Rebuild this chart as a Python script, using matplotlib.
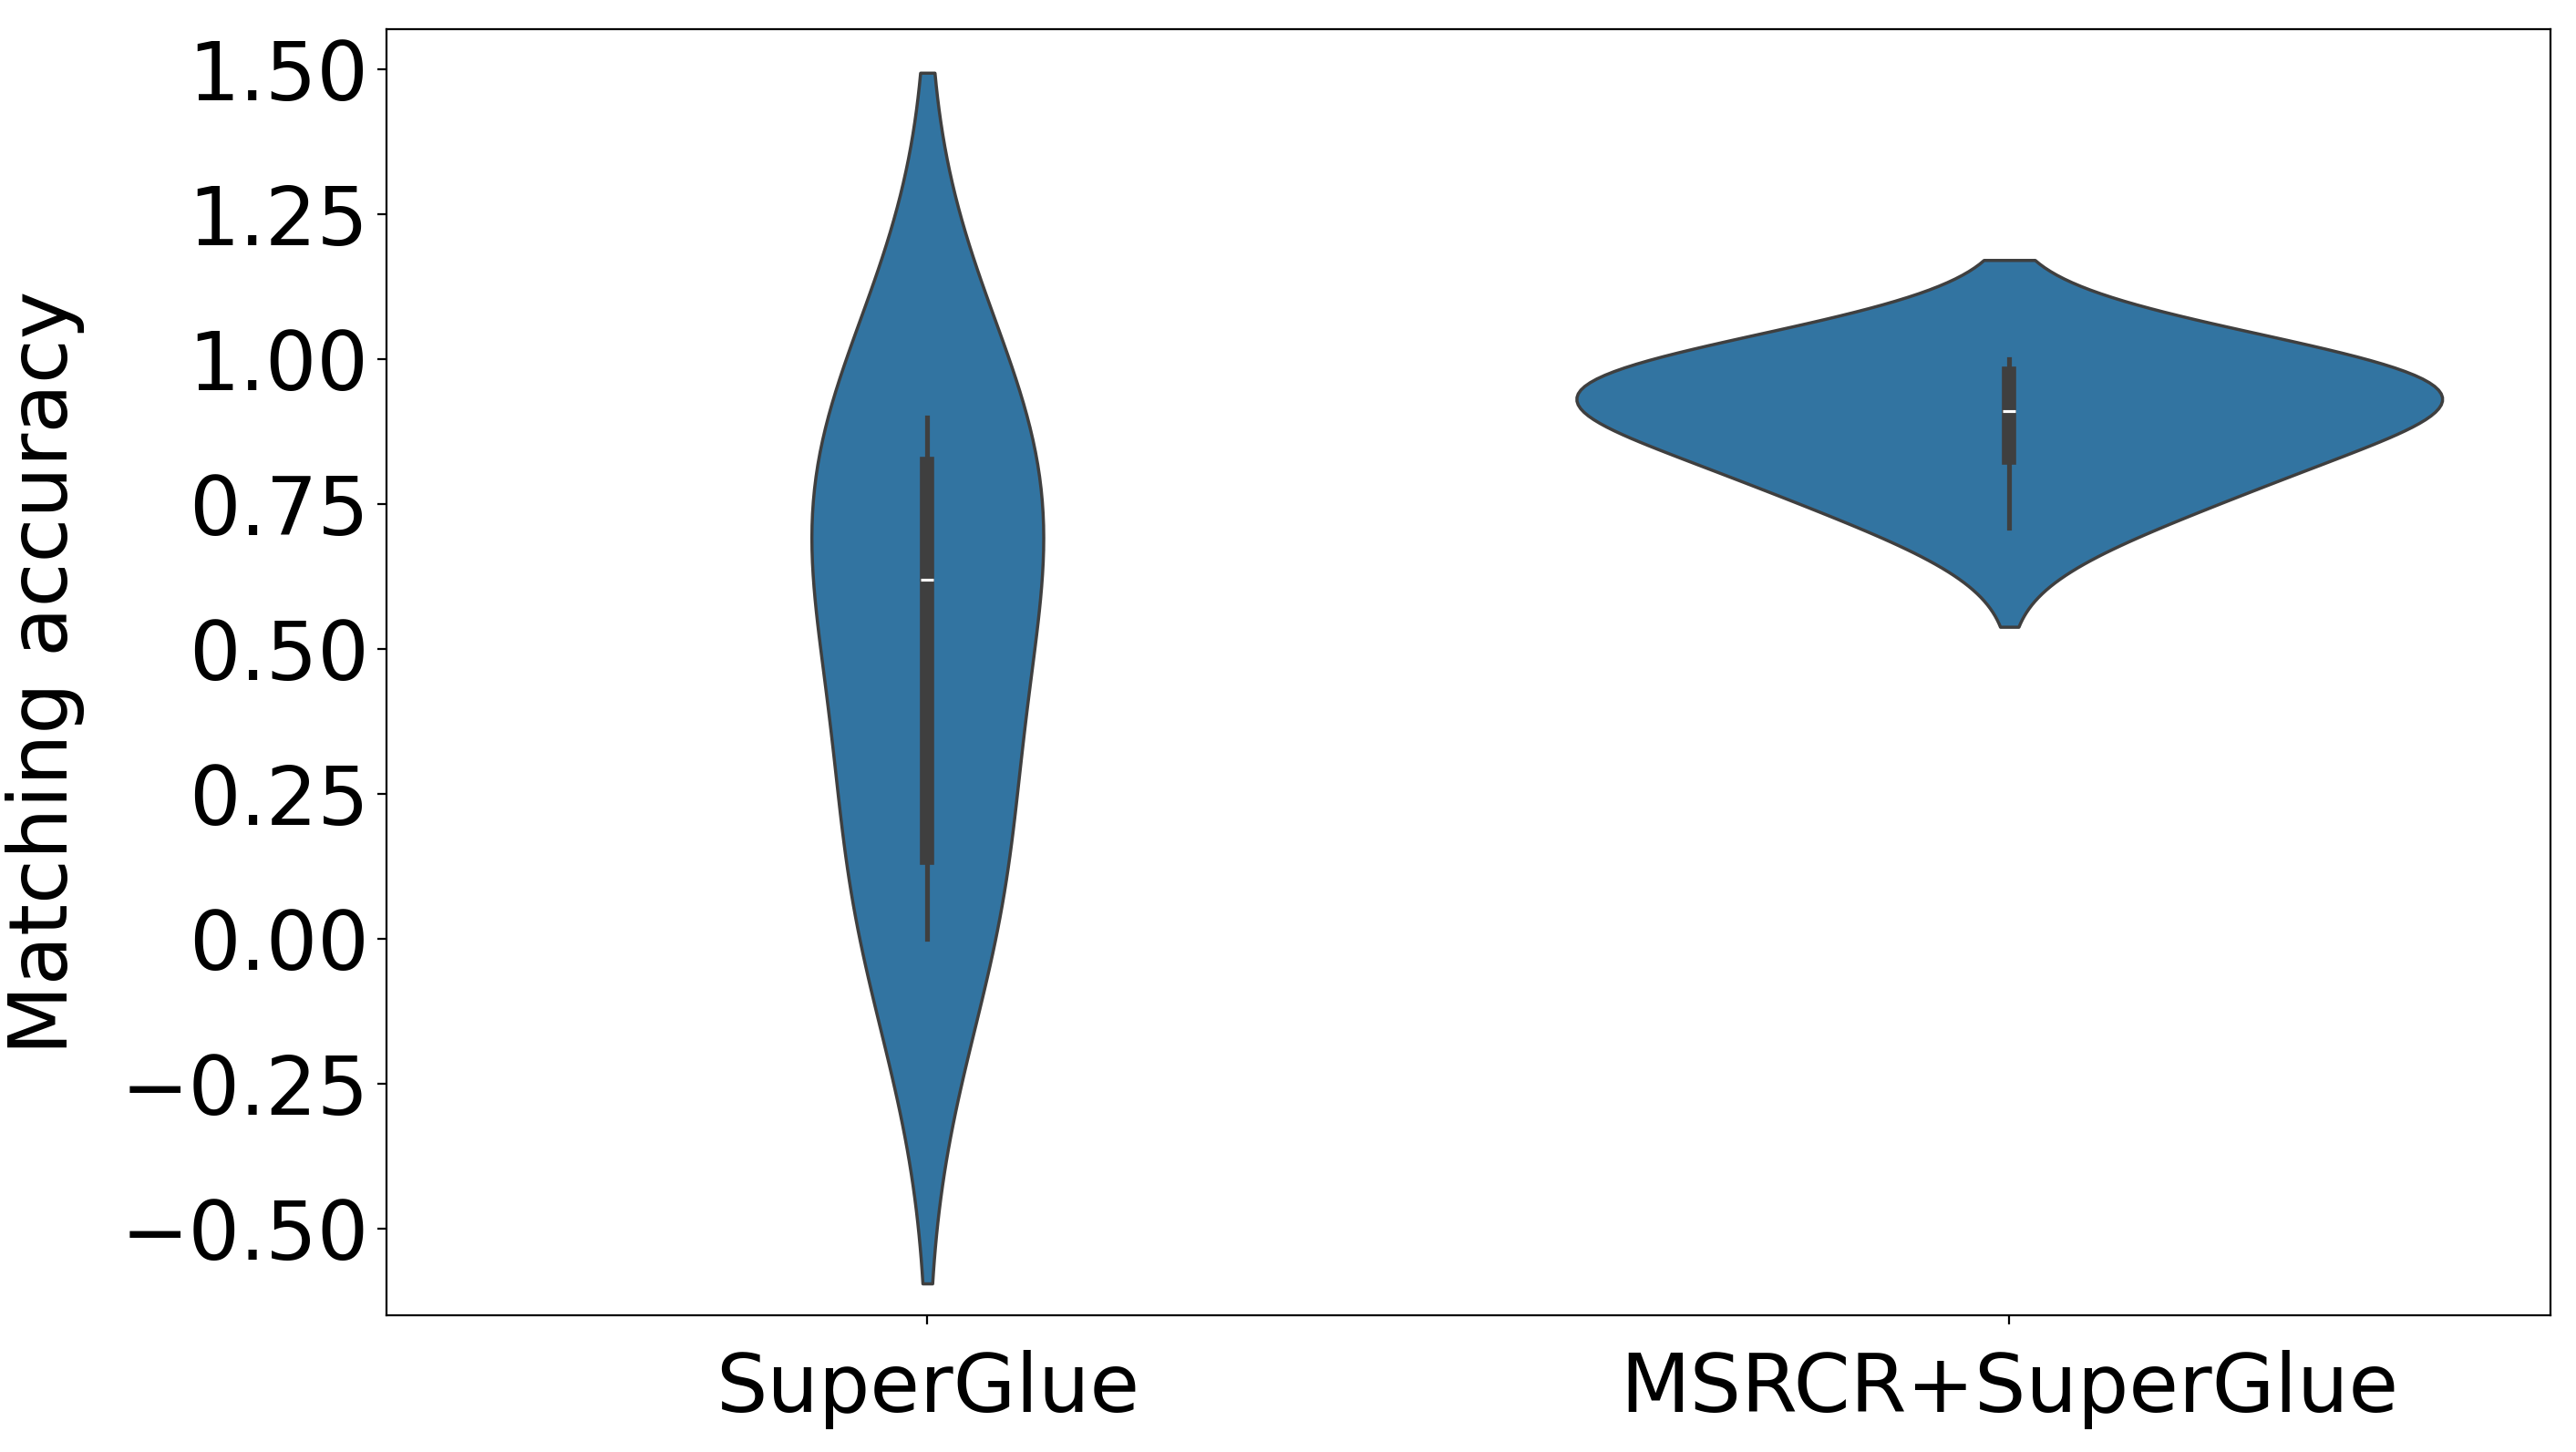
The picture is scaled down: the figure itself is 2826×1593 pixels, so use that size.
import matplotlib
matplotlib.use("Agg")
import matplotlib.pyplot as plt
import seaborn as sns
import pandas as pd

categories = ["SuperGlue", "MSRCR+SuperGlue"]
superglue = [0.0, 0.05, 0.12, 0.14, 0.3, 0.6, 0.62, 0.7, 0.74, 0.82, 0.84, 0.88, 0.9]
msrcr = [0.71, 0.79, 0.8, 0.86, 0.91, 0.91, 0.94, 0.96, 0.99, 0.99, 1.0]

df = pd.DataFrame({"method": [categories[0]] * len(superglue) + [categories[1]] * len(msrcr),
                   "acc": superglue + msrcr})

fig = plt.figure(figsize=(14.13, 7.965), dpi=200)
ax = fig.add_axes([0.15, 0.094, 0.84, 0.886])
sns.violinplot(data=df, x="method", y="acc", ax=ax, color="#1f77b4", saturation=0.75,
               cut=2, bw_adjust=1.45)
ax.set_xlabel("")
ax.set_ylabel("Matching accuracy", fontsize=32, labelpad=14)
ax.tick_params(labelsize=32)
ax.tick_params(axis="x", pad=10)
ax.set_yticks([-0.5, -0.25, 0, 0.25, 0.5, 0.75, 1.0, 1.25, 1.5])
ax.set_ylim(-0.65, 1.57)
fig.savefig("out.png", dpi=200)
